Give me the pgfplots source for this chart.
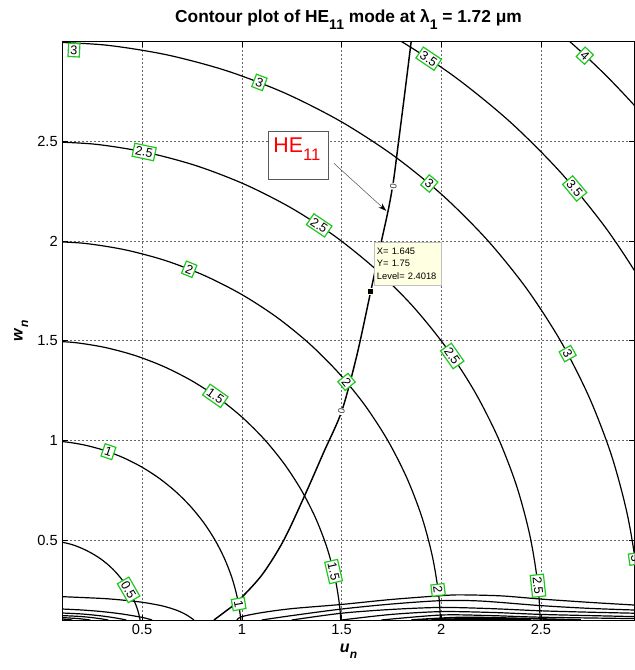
\documentclass[border=0pt]{standalone}
\usepackage{fontspec}
\setmainfont{Liberation Sans}
\usepackage{pgfplots}
\pgfplotsset{compat=1.18}
\usetikzlibrary{arrows.meta}
\definecolor{lblgreen}{RGB}{30,200,30}
\definecolor{tipfill}{RGB}{255,255,225}
\tikzset{
  clab/.style={draw=lblgreen, line width=0.9pt, fill=white, inner sep=1.6pt, font=\fontsize{9.5}{10}\selectfont},
  zlab/.style={fill=white, inner sep=0.6pt, font=\fontsize{7}{7}\selectfont, text=black!80},
}
\begin{document}
\begin{tikzpicture}
\begin{axis}[
  scale only axis, width=429.2pt, height=433.7pt,
  xmin=0.1, xmax=2.97, ymin=0.1, ymax=3,
  xtick={0.5,1,1.5,2,2.5}, ytick={0.5,1,1.5,2,2.5},
  grid=major,
  major grid style={dash pattern=on 1.2pt off 1.8pt, gray!80!black, line width=0.5pt},
  axis line style={line width=0.6pt},
  tick style={black, line width=0.5pt}, major tick length=4pt,
  tick label style={font=\fontsize{11}{12}\selectfont},
  /pgf/number format/assume math mode=true,
  xlabel={\textbf{\textit{u}\raisebox{-0.35em}{\fontsize{9}{9}\selectfont\textit{n}}}},
  ylabel={\textbf{\textit{w}\raisebox{-0.35em}{\fontsize{9}{9}\selectfont\textit{n}}}},
  label style={font=\fontsize{12}{13}\selectfont},
  title={\textbf{Contour plot of HE\raisebox{-0.4em}{\fontsize{10.5}{11}\selectfont 11} mode at λ\raisebox{-0.4em}{\fontsize{10.5}{11}\selectfont 1} = 1.72 μm}},
  title style={font=\fontsize{13}{15}\selectfont, yshift=0pt},
]
% circles V = sqrt(u^2+w^2)
\addplot[black, line width=0.9pt, smooth] coordinates {(0.497,0.052)(0.489,0.104)(0.476,0.155)(0.457,0.203)(0.433,0.25)(0.405,0.294)(0.372,0.335)(0.335,0.372)(0.294,0.405)(0.25,0.433)(0.203,0.457)(0.155,0.476)(0.104,0.489)(0.052,0.497)};
\addplot[black, line width=0.9pt, smooth] coordinates {(1,0)(0.9945,0.1045)(0.9781,0.2079)(0.9511,0.3090)(0.9135,0.4067)(0.8660,0.5)(0.8090,0.5878)(0.7431,0.6691)(0.6691,0.7431)(0.5878,0.8090)(0.5,0.8660)(0.4067,0.9135)(0.3090,0.9511)(0.2079,0.9781)(0.1045,0.9945)(0,1)};
\addplot[black, line width=0.9pt, smooth] coordinates {(1.5,0)(1.4918,0.1568)(1.4672,0.3119)(1.4266,0.4635)(1.3703,0.6101)(1.2990,0.75)(1.2135,0.8817)(1.1147,1.0037)(1.0037,1.1147)(0.8817,1.2135)(0.75,1.2990)(0.6101,1.3703)(0.4635,1.4266)(0.3119,1.4672)(0.1568,1.4918)(0,1.5)};
\addplot[black, line width=0.9pt, smooth] coordinates {(2,0)(1.989,0.209)(1.9562,0.4158)(1.9022,0.618)(1.827,0.8134)(1.732,1.0)(1.618,1.1756)(1.4862,1.3382)(1.3382,1.4862)(1.1756,1.618)(1.0,1.732)(0.8134,1.827)(0.618,1.9022)(0.4158,1.9562)(0.209,1.989)(0,2)};
\addplot[black, line width=0.9pt, smooth] coordinates {(2.5,0)(2.4863,0.2613)(2.4453,0.5198)(2.3778,0.7725)(2.2838,1.0168)(2.165,1.25)(2.0225,1.4695)(1.8578,1.6728)(1.6728,1.8578)(1.4695,2.0225)(1.25,2.165)(1.0168,2.2838)(0.7725,2.3778)(0.5198,2.4453)(0.2613,2.4863)(0,2.5)};
\addplot[black, line width=0.9pt, smooth] coordinates {(3,0)(2.9835,0.3135)(2.9343,0.6237)(2.8533,0.927)(2.7405,1.2201)(2.598,1.5)(2.427,1.7634)(2.2293,2.0073)(2.0073,2.2293)(1.7634,2.427)(1.5,2.598)(1.2201,2.7405)(0.927,2.8533)(0.6237,2.9343)(0.3135,2.9835)(0,3)};
\addplot[black, line width=0.9pt, smooth] coordinates {(3.1973,1.4235)(3.031,1.75)(2.8315,2.0573)(2.6009,2.3419)(2.3419,2.6009)(2.0573,2.8315)(1.75,3.031)(1.4235,3.1973)};
\addplot[black, line width=0.9pt, smooth] coordinates {(3.236,2.3512)(3.1084,2.5172)(2.9724,2.6764)(2.8284,2.8284)(2.6764,2.9724)(2.5172,3.1084)(2.3512,3.236)};
% HE11 dispersion curve (level 0)
\addplot[black, line width=1.1pt, smooth] coordinates {(0.86,0.1)(0.92,0.145)(0.978,0.192)(1.1,0.325)(1.21,0.5)(1.32,0.735)(1.41,0.94)(1.5,1.145)(1.575,1.42)(1.648,1.756)(1.70,2.0)(1.735,2.16)(1.76,2.3)(1.786,2.5)(1.818,2.75)(1.849,3.0)};
% cluster of contours near w = 0.1 (left)
\addplot[black, line width=0.9pt, smooth] coordinates {(0.1,0.217)(0.3,0.208)(0.4,0.2)(0.5,0.189)(0.6,0.171)(0.67,0.15)(0.72,0.127)(0.76,0.1)};
\addplot[black, line width=0.9pt, smooth] coordinates {(0.1,0.155)(0.2,0.15)(0.3,0.142)(0.4,0.13)(0.5,0.113)(0.55,0.1)};
\addplot[black, line width=0.9pt, smooth] coordinates {(0.1,0.135)(0.2,0.13)(0.3,0.12)(0.38,0.108)(0.42,0.1)};
\addplot[black, line width=0.9pt, smooth] coordinates {(0.1,0.122)(0.2,0.117)(0.28,0.108)(0.33,0.1)};
\addplot[black, line width=0.9pt, smooth] coordinates {(0.1,0.112)(0.18,0.107)(0.24,0.1)};
\addplot[black, line width=0.9pt, smooth] coordinates {(0.1,0.105)(0.15,0.1)};
% cluster of contours near w = 0.1 (right)
\addplot[black, line width=0.9pt, smooth] coordinates {(0.975,0.1)(1.0,0.117)(1.1,0.137)(1.25,0.157)(1.5,0.178)(1.75,0.203)(2.0,0.222)(2.1,0.226)(2.3,0.221)(2.5,0.205)(2.75,0.188)(2.97,0.175)};
\addplot[black, line width=0.9pt, smooth] coordinates {(1.1,0.1)(1.25,0.122)(1.5,0.155)(1.75,0.18)(2.0,0.197)(2.2,0.195)(2.5,0.172)(2.75,0.158)(2.97,0.15)};
\addplot[black, line width=0.9pt, smooth] coordinates {(1.25,0.1)(1.5,0.134)(1.75,0.153)(2.0,0.163)(2.25,0.157)(2.5,0.146)(2.75,0.139)(2.97,0.134)};
\addplot[black, line width=0.9pt, smooth] coordinates {(1.5,0.1)(1.75,0.128)(2.0,0.142)(2.25,0.138)(2.5,0.128)(2.75,0.122)(2.97,0.117)};
\addplot[black, line width=0.9pt, smooth] coordinates {(1.7,0.1)(2.0,0.125)(2.25,0.122)(2.5,0.114)(2.97,0.107)};
\addplot[black, line width=1.2pt, smooth] coordinates {(1.85,0.1)(2.1,0.113)(2.4,0.108)(2.7,0.1)};
\addplot[black, line width=1.6pt, smooth] coordinates {(1.95,0.1)(2.2,0.106)(2.45,0.1)};
% data tip marker
\addplot[only marks, mark=square*, mark size=2.4pt, mark options={fill=black, draw=tipfill, line width=0.4pt}] coordinates {(1.645,1.75)};

% contour labels
\node[clab, rotate=-3] at (axis cs:0.158,2.958) {3};
\node[clab, rotate=-21] at (axis cs:1.088,2.796) {3};
\node[clab, rotate=-34] at (axis cs:1.937,2.915) {3.5};
\node[clab, rotate=-43] at (axis cs:2.72,2.93) {4};
\node[clab, rotate=-12] at (axis cs:0.51,2.447) {2.5};
\node[clab, rotate=-34] at (axis cs:1.388,2.079) {2.5};
\node[clab, rotate=-40] at (axis cs:1.94,2.289) {3};
\node[clab, rotate=-50] at (axis cs:2.669,2.264) {3.5};
\node[clab, rotate=-22] at (axis cs:0.736,1.859) {2};
\node[clab, rotate=-55] at (axis cs:2.055,1.424) {2.5};
\node[clab, rotate=-61] at (axis cs:2.634,1.436) {3};
\node[clab, rotate=-35] at (axis cs:0.867,1.224) {1.5};
\node[clab, rotate=-50] at (axis cs:1.525,1.294) {2};
\node[clab, rotate=-19] at (axis cs:0.331,0.944) {1};
\node[clab, rotate=-60] at (axis cs:0.432,0.251) {0.5};
\node[clab, rotate=-80] at (axis cs:0.984,0.180) {1};
\node[clab, rotate=-77] at (axis cs:1.46,0.343) {1.5};
\node[clab, rotate=-83] at (axis cs:1.984,0.251) {2};
\node[clab, rotate=-84] at (axis cs:2.485,0.272) {2.5};
\node[clab, rotate=-82] at (axis cs:2.975,0.407) {3};
\node[zlab, rotate=81] at (axis cs:1.76,2.275) {0};
\node[zlab, rotate=75] at (axis cs:1.5,1.145) {0};

% data tip
\node[draw=gray!50, fill=tipfill, anchor=north west, inner sep=2pt, align=left,
      text width=46pt, minimum height=32pt, font=\fontsize{7}{9.4}\selectfont]
      at (axis cs:1.663,1.995) {X= 1.645\\Y= 1.75\\Level= 2.4018};

% HE11 annotation
\node[draw=gray!70!black, line width=0.6pt, anchor=north west, minimum width=45pt,
      minimum height=36pt, inner sep=0pt, fill=white] (he) at (axis cs:1.13,2.55) {};
\node[anchor=north west, inner sep=0pt, text=red, font=\fontsize{16}{16}\selectfont]
      at ([shift={(4pt,-4.5pt)}]he.north west) {HE\raisebox{-0.4em}{\fontsize{12.5}{13}\selectfont 11}};
\draw[gray!70!black, line width=0.4pt, -{Stealth[black, length=6pt, width=4pt]}]
      (axis cs:1.462,2.39) -- (axis cs:1.724,2.152);
\end{axis}
\pgfresetboundingbox
\path[use as bounding box] ([shift={(-46.8pt,-37.5pt)}]current axis.south west) rectangle ([shift={(0pt,31.3pt)}]current axis.north east);
\end{tikzpicture}
\end{document}
